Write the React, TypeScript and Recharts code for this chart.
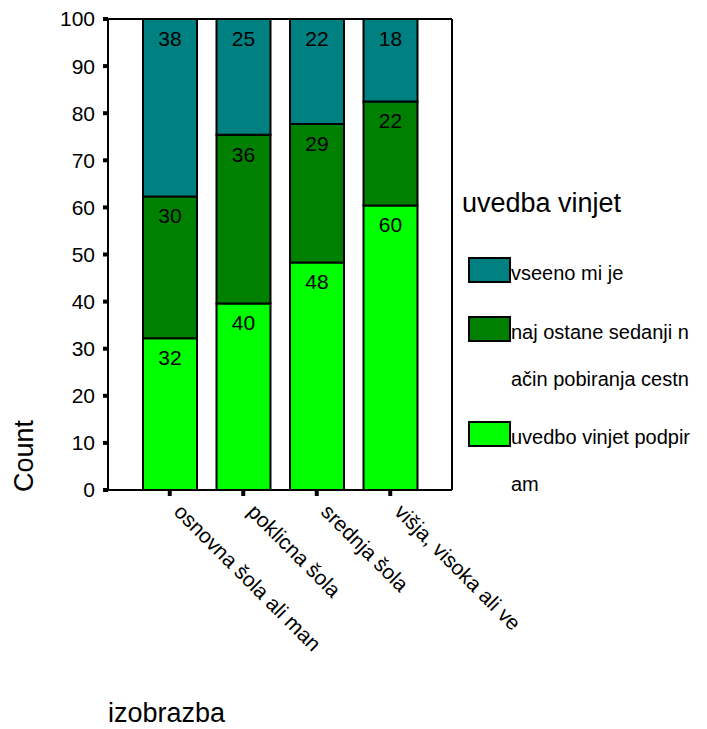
import { Bar, BarChart, Label, LabelList, Legend, XAxis, YAxis } from 'recharts';

const categories = ['osnovna šola ali man', 'poklicna šola', 'srednja šola', 'višja, visoka ali ve'];
const podpiram = [32.2, 39.6, 48.3, 60.4];
const najOstane = [30.1, 35.8, 29.4, 22.1];
const vseeno = [37.7, 24.6, 22.3, 17.5];
const yTicks = [0, 10, 20, 30, 40, 50, 60, 70, 80, 90, 100];

const seriesNames = ['uvedbo vinjet podpiram', 'naj ostane sedanji način pobiranja cestn', 'vseeno mi je'];
const seriesColors = ['#00ff00', '#008000', '#008080'];

const data = categories.map((name, i) => ({
  name,
  podpiram: podpiram[i],
  najOstane: najOstane[i],
  vseeno: vseeno[i],
}));

const FONT = "'Liberation Sans', Arial, sans-serif";

const XTick = ({ x, y, payload }: any) => (
  <text
    x={x + 3}
    y={y + 15}
    transform={`rotate(45, ${x + 3}, ${y + 15})`}
    fontSize={21}
    fontFamily={FONT}
    fill="#000"
    textAnchor="start"
  >
    {payload.value}
  </text>
);

// split a label into 20 char lines, like the original legend does
const chunk = (s: string) => {
  const out: string[] = [];
  for (let i = 0; i < s.length; i += 20) out.push(s.slice(i, i + 20));
  return out;
};

const LegendBox = ({ payload }: any) => {
  // top of the stack first
  const order = [...seriesNames].reverse();
  const items = order.map((n) => {
    const p = (payload || []).find((e: any) => e.value === n);
    return { value: n, color: p ? p.color : seriesColors[seriesNames.indexOf(n)] };
  });
  let top = 257;
  return (
    <div style={{ position: 'relative', width: 707, height: 729, fontFamily: FONT, color: '#000' }}>
      <div style={{ position: 'absolute', left: 462, top: 190, fontSize: 27, lineHeight: '27px', whiteSpace: 'nowrap' }}>
        uvedba vinjet
      </div>
      {items.map((it) => {
        const lines = chunk(it.value);
        const t = top;
        top += 59 + 46 * (lines.length - 1);
        return (
          <div key={it.value}>
            <div
              style={{
                position: 'absolute',
                left: 468,
                top: t,
                width: 43,
                height: 26,
                boxSizing: 'border-box',
                border: '2px solid #000',
                background: it.color,
              }}
            />
            {lines.map((ln, j) => (
              <div
                key={j}
                style={{
                  position: 'absolute',
                  left: 511,
                  top: t + 6 + j * 47,
                  fontSize: 20,
                  lineHeight: '20px',
                  whiteSpace: 'nowrap',
                }}
              >
                {ln}
              </div>
            ))}
          </div>
        );
      })}
    </div>
  );
};

export default function App() {
  return (
    <div style={{ width: 707, height: 729 }}>
      <style>{'body{margin:0}'}</style>
      <BarChart
        width={707}
        height={729}
        data={data}
        margin={{ top: 18, right: 254, bottom: 0, left: 0 }}
        barSize={54}
      >
        <XAxis
          dataKey="name"
          height={239}
          padding={{ left: 25, right: 25 }}
          interval={0}
          axisLine={{ stroke: '#000', strokeWidth: 2 }}
          tickLine={{ stroke: '#000', strokeWidth: 4 }}
          tickSize={6}
          tick={<XTick />}
        >
          <Label
            content={({ viewBox }: any) => (
              <text x={viewBox.x} y={viewBox.y + 232} fontSize={27} fontFamily={FONT} fill="#000">
                izobrazba
              </text>
            )}
          />
        </XAxis>
        <XAxis
          xAxisId="top"
          dataKey="name"
          orientation="top"
          height={1}
          tick={false}
          tickLine={false}
          axisLine={{ stroke: '#000', strokeWidth: 2 }}
        />
        <YAxis
          width={108}
          domain={[0, 100]}
          ticks={yTicks}
          interval={0}
          allowDataOverflow
          axisLine={{ stroke: '#000', strokeWidth: 2 }}
          tickLine={{ stroke: '#000', strokeWidth: 4 }}
          tickSize={5}
          tickMargin={8}
          tick={{ fill: '#000', fontSize: 21, fontFamily: FONT }}
        >
          <Label
            content={({ viewBox }: any) => {
              const x = viewBox.x + 33;
              const y = viewBox.y + viewBox.height + 2;
              return (
                <text x={x} y={y} transform={`rotate(-90, ${x}, ${y})`} fontSize={27} fontFamily={FONT} fill="#000">
                  Count
                </text>
              );
            }}
          />
        </YAxis>
        <YAxis
          yAxisId="right"
          orientation="right"
          width={1}
          domain={[0, 100]}
          tick={false}
          tickLine={false}
          axisLine={{ stroke: '#000', strokeWidth: 2 }}
        />
        <Legend
          layout="vertical"
          align="center"
          verticalAlign="middle"
          wrapperStyle={{ left: 0, top: 0, width: 707, height: 729, pointerEvents: 'none' }}
          content={<LegendBox />}
        />
        <Bar dataKey="podpiram" name={seriesNames[0]} stackId="a" fill={seriesColors[0]} stroke="#000" strokeWidth={2} isAnimationActive={false}>
          <LabelList dataKey="podpiram" position="insideTop" offset={12} formatter={(v: any) => Math.round(v)} fill="#000" fontSize={21} fontFamily={FONT} />
        </Bar>
        <Bar dataKey="najOstane" name={seriesNames[1]} stackId="a" fill={seriesColors[1]} stroke="#000" strokeWidth={2} isAnimationActive={false}>
          <LabelList dataKey="najOstane" position="insideTop" offset={12} formatter={(v: any) => Math.round(v)} fill="#000" fontSize={21} fontFamily={FONT} />
        </Bar>
        <Bar dataKey="vseeno" name={seriesNames[2]} stackId="a" fill={seriesColors[2]} stroke="#000" strokeWidth={2} isAnimationActive={false}>
          <LabelList dataKey="vseeno" position="insideTop" offset={12} formatter={(v: any) => Math.round(v)} fill="#000" fontSize={21} fontFamily={FONT} />
        </Bar>
      </BarChart>
    </div>
  );
}
